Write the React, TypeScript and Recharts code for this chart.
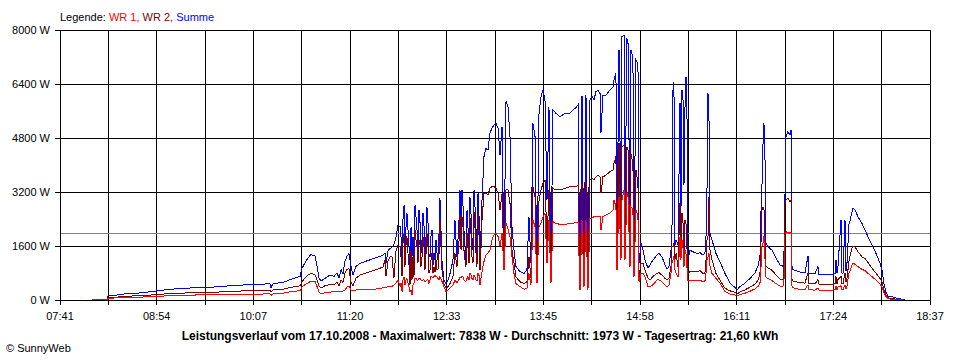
import React from 'react';
import { LineChart, Line, XAxis, YAxis, CartesianGrid, ReferenceLine } from 'recharts';

// Uhrzeit in Minuten seit Mitternacht
const zeit = [
  485.1, 491.2, 496.4, 497.2, 502.5, 510.0, 513.8, 521.3, 530.4, 540.2,
  547.7, 555.3, 564.3, 574.1, 585.4, 596.7, 608.0, 619.3, 620.1, 621.6,
  630.7, 634.4, 638.9, 642.0, 643.5, 645.7, 648.0, 650.3, 653.3, 654.8,
  656.3, 657.8, 660.8, 664.6, 667.6, 669.9, 671.4, 672.9, 674.4, 675.9,
  677.4, 678.9, 680.4, 681.9, 684.2, 687.2, 691.0, 694.7, 698.5, 702.3,
  704.5, 706.1, 706.8, 708.3, 709.8, 711.3, 712.8, 714.3, 715.9,
  717.4, 718.1, 718.9, 719.6, 720.4, 721.1, 721.9, 722.6, 723.4, 724.1,
  724.9, 725.7, 726.4, 727.2, 727.9, 728.7, 729.4, 730.2, 730.9, 731.7,
  732.4, 733.2, 734.0, 734.7, 735.5, 736.2, 737.0, 737.7, 738.5, 739.2,
  740.0, 740.7, 741.5, 742.2, 743.0, 743.8, 744.5, 745.3, 746.0, 746.8,
  747.5, 749.0, 750.5, 752.0, 753.6, 755.1, 757.3, 758.8, 759.6, 760.3,
  761.8, 762.6, 763.4, 764.1, 764.9, 765.6, 766.4, 767.1, 767.9, 768.6,
  769.4, 770.1, 770.9, 771.6, 772.4, 773.2, 773.9, 774.7, 775.4, 776.2,
  776.9, 777.7, 778.4, 779.2, 780.7, 782.2, 783.7,
  785.2, 786.7, 788.2, 789.7, 791.3, 792.8, 794.3, 795.8, 797.3, 798.8,
  800.3, 801.8, 803.3, 804.8, 807.8, 810.9, 813.1, 814.6, 816.1, 817.6,
  819.2, 820.7, 822.2, 823.7, 825.2, 826.7, 828.2, 829.7, 831.2, 832.7,
  835.0, 838.0, 841.8, 845.5,
  847.8, 850.1, 851.6, 853.1, 854.6, 856.1, 857.6, 859.1, 860.6, 862.1,
  863.6, 865.1, 866.7, 868.2, 868.9, 870.4, 872.7, 875.7, 878.0, 878.7,
  880.2, 881.0, 882.5, 884.0, 884.7, 886.3, 887.0, 888.5, 889.3, 890.8,
  891.5, 893.0, 893.8, 895.3, 896.8, 897.6, 899.1, 900.6, 902.1, 904.4,
  905.9, 908.1, 911.1, 912.6, 914.9, 917.2, 918.7, 920.2, 921.7, 922.4,
  923.2, 923.9, 924.7, 925.5, 927.0, 928.5, 929.2, 930.0, 930.7, 931.5,
  932.2, 933.0, 933.7, 934.5, 936.0, 938.2, 941.3, 943.6, 945.8, 947.3,
  948.1, 948.8, 949.6, 950.3, 951.1, 952.6, 955.6, 958.6, 962.4, 966.2,
  970.0, 971.5,
  973.7, 977.5, 981.3, 985.0, 987.3, 988.8, 989.6, 990.3, 991.1, 991.8,
  992.6, 993.3, 994.8, 997.8, 1000.1, 1003.9, 1006.1, 1006.9, 1007.7, 1008.4,
  1009.9, 1011.4, 1012.2, 1012.9, 1013.7, 1016.7, 1019.0, 1022.7, 1025.0, 1025.7,
  1028.0, 1030.3, 1032.5, 1033.3, 1034.0, 1037.8, 1041.6, 1045.4, 1046.1, 1046.9,
  1047.6, 1049.9, 1050.6, 1051.4, 1052.9, 1053.6, 1054.4, 1055.9, 1056.7, 1058.2,
  1058.9, 1060.4, 1062.7, 1065.7, 1068.0, 1070.2, 1073.3, 1076.3, 1079.3, 1080.8,
  1082.3, 1083.8, 1085.3, 1088.3, 1092.9, 1096.6, 1098.1,
];

// Summe (W)
const summe = [
  0, 10, 20, 130, 140, 180, 190, 210, 250, 300,
  330, 345, 370, 375, 410, 440, 460, 480, 370, 480,
  540, 600, 660, 700, 940, 1100, 1250, 1350, 1300, 1000,
  650, 560, 640, 740, 700, 800, 650, 900, 780, 1150,
  1300, 1380, 1000, 750, 1000, 1080, 1140, 1190, 1240, 1290,
  1330, 1380, 1100, 1450, 1530, 1560, 1650, 1850, 2220,
  2170, 1880, 990, 2370, 2800, 1480, 2170, 2570, 2070, 1680,
  700, 2170, 1280, 1880, 990, 2800, 2470, 2070, 1580, 2670,
  2370, 1380, 1780, 2570, 2170, 1180, 1880, 2760, 2270, 1380,
  1280, 1880, 2070, 1000, 1380, 1180, 1780, 1380, 1180, 1980,
  3010, 1180, 590, 490, 590, 790, 1180, 2370, 1780, 1280,
  2270, 3260, 2070, 3260, 2770, 2070, 1580, 1180, 2670, 2170,
  1480, 3060, 2570, 1880, 1480, 3260, 2770, 2070, 1380, 3160,
  2570, 1180, 1980, 2960, 4250, 4490, 4440,
  4940, 5090, 5190, 5240, 5090, 4300, 5140, 1280, 5880, 5730,
  4840, 2170, 1480, 990, 840, 790, 890, 2470, 1090, 5240,
  4840, 690, 5530, 6030, 6220, 5930, 2960, 5730, 890, 5630,
  5530, 5430, 5530, 5530,
  5630, 5700, 5780, 490, 6030, 690, 6070, 490, 5930, 6030,
  5930, 6170, 6220, 6120, 4940, 6070, 6070, 6220, 6320, 6520,
  6720, 1880, 7410, 2070, 7800, 7838, 2270, 7750, 7600, 1880,
  7410, 7210, 1190, 7110, 7010, 1090, 1680, 1480, 1190, 940,
  1040, 1185, 1330, 1380, 1280, 1040, 910, 990, 1480, 1780,
  6220, 6470, 1630, 1780, 1630, 5830, 2470, 6220, 6120, 3410,
  5630, 6620, 5830, 1190, 1480, 1430, 1380, 1400, 1330, 1380,
  1880, 3060, 6120, 5630, 1975, 1780, 1380, 1140, 790, 500,
  370, 300,
  400, 500, 640, 800, 1000, 1300, 2670, 3360, 4640, 5240,
  4150, 1680, 1580, 1480, 1300, 1040, 990, 1380, 3160, 4840,
  4990, 4890, 5040, 1000, 900, 860, 830, 800, 1300, 790,
  790, 770, 1000, 760, 760, 740, 760, 780, 1190, 790,
  990, 2370, 800, 790, 2370, 850, 1090, 2250, 2350, 2620,
  2720, 2670, 2470, 2270, 2070, 1880, 1630, 1380, 1090, 890,
  490, 250, 120, 100, 40, 20, 0,
];

// WR 2 (W)
const wr2 = [
  0, 5, 10, 75, 80, 110, 115, 130, 150, 180,
  200, 207, 220, 225, 245, 265, 280, 295, 230, 295,
  330, 370, 400, 420, 545, 650, 740, 790, 740, 600,
  420, 360, 420, 460, 450, 520, 430, 600, 520, 800,
  900, 940, 520, 420, 650, 740, 790, 840, 890, 940,
  980, 1180, 700, 1150, 1280, 1300, 650, 1450, 1630,
  1580, 1280, 700, 1680, 1970, 990, 1630, 1880, 1380, 1090,
  450, 1480, 590, 1280, 690, 2070, 1780, 1580, 1090, 1780,
  1680, 990, 1280, 1880, 1580, 890, 1380, 1970, 1580, 790,
  890, 1180, 1380, 800, 990, 840, 1180, 890, 890, 1380,
  2370, 890, 490, 350, 400, 490, 690, 1380, 1180, 990,
  1680, 2520, 1480, 2470, 2170, 1480, 1180, 990, 1980, 1580,
  1090, 2470, 1980, 1280, 1090, 2620, 2170, 1380, 990, 2570,
  1980, 890, 1480, 2370, 3160, 3160, 3110,
  3310, 3360, 3360, 3310, 3160, 2670, 3160, 1090, 3260, 3260,
  2870, 1480, 1090, 690, 540, 490, 540, 1280, 640, 3360,
  3060, 590, 2960, 3260, 3460, 3560, 1680, 3260, 690, 3310,
  3260, 3260, 3310, 3360,
  3360, 3360, 3410, 400, 3460, 540, 3560, 450, 3560, 3600,
  3560, 3650, 3700, 3650, 3160, 3650, 3700, 3800, 3850, 4050,
  4250, 1190, 4640, 1480, 4540, 4590, 1480, 4540, 4440, 1190,
  4340, 4050, 890, 3850, 3460, 690, 1090, 1090, 890, 640,
  590, 700, 790, 810, 740, 640, 590, 640, 990, 1580,
  1580, 1700, 1200, 1380, 990, 2860, 1580, 2570, 2370, 1190,
  2370, 2270, 1580, 790, 840, 840, 840, 870, 790, 790,
  1190, 1780, 1850, 3060, 1480, 1190, 790, 590, 350, 270,
  230, 180,
  240, 300, 380, 470, 580, 800, 1750, 2670, 2760, 2700,
  1700, 1000, 950, 880, 780, 620, 590, 1040, 2860, 2960,
  3010, 2910, 2960, 620, 560, 530, 520, 500, 800, 490,
  490, 480, 600, 470, 470, 460, 460, 480, 700, 480,
  600, 700, 490, 480, 800, 520, 640, 1150, 1300, 1550,
  1600, 1580, 1430, 1280, 1230, 1110, 940, 790, 640, 540,
  300, 150, 70, 40, 15, 5, 0,
];

// WR 1 (W)
const wr1 = [
  0, 5, 10, 55, 60, 75, 80, 85, 100, 120,
  130, 135, 150, 150, 160, 170, 175, 180, 140, 180,
  210, 240, 260, 280, 395, 450, 510, 560, 560, 400,
  230, 190, 210, 230, 250, 250, 240, 260, 260, 300,
  380, 420, 300, 270, 300, 300, 300, 300, 320, 350,
  360, 380, 380, 390, 395, 400, 450, 500, 590,
  400, 500, 250, 590, 690, 450, 590, 640, 500, 400,
  250, 300, 150, 450, 500, 640, 640, 590, 590, 640,
  640, 590, 590, 590, 600, 550, 560, 600, 590, 490,
  600, 690, 690, 650, 700, 740, 700, 690, 640, 590,
  690, 550, 400, 250, 300, 350, 440, 590, 550, 500,
  600, 690, 650, 690, 690, 590, 560, 550, 640, 690,
  600, 790, 740, 640, 600, 740, 690, 590, 560, 790,
  740, 440, 640, 840, 1140, 1330, 1380,
  1480, 1780, 1930, 1980, 1880, 1600, 1980, 890, 2270, 2100,
  1880, 1280, 790, 490, 400, 320, 350, 790, 450, 2370,
  2170, 490, 2170, 2270, 2470, 2570, 1090, 2370, 490, 2320,
  2270, 2240, 2240, 2270,
  2270, 2300, 2300, 300, 2370, 400, 2370, 300, 2420, 2420,
  2470, 2470, 2470, 2470, 2070, 2470, 2520, 2570, 2670, 2960,
  2770, 890, 3060, 1190, 2960, 3260, 1190, 3160, 3060, 990,
  2770, 2670, 690, 2670, 2470, 540, 790, 790, 690, 400,
  395, 450, 590, 600, 540, 450, 395, 450, 790, 1090,
  1190, 1300, 890, 790, 690, 1880, 1190, 1780, 1580, 990,
  1480, 1380, 990, 590, 590, 580, 590, 590, 540, 560,
  790, 1180, 1280, 1400, 1000, 790, 640, 500, 250, 180,
  150, 120,
  160, 200, 260, 330, 400, 500, 1000, 1600, 1700, 1900,
  1200, 680, 640, 580, 510, 410, 390, 590, 1980, 2020,
  2000, 1980, 2000, 420, 360, 330, 320, 310, 450, 300,
  300, 290, 360, 290, 290, 280, 290, 300, 420, 300,
  380, 420, 310, 300, 450, 330, 400, 800, 870, 1040,
  1090, 1060, 990, 910, 870, 790, 690, 590, 470, 390,
  200, 100, 40, 20, 10, 0, 0,
];

const tickLabels = ['07:41', '08:54', '10:07', '11:20', '12:33', '13:45', '14:58', '16:11', '17:24', '18:37'];
const yTicks = [0, 1600, 3200, 4800, 6400, 8000];
const durchschnitt = 1973;

const startMin = 461;
const endMin = 1117;
const xTicks = Array.from({ length: 19 }, (_, i) => startMin + (i * (endMin - startMin)) / 18);

const daten = zeit.map((t, i) => ({ t, wr1: wr1[i], wr2: wr2[i], summe: summe[i] }));

const font = '"Liberation Sans", Arial, sans-serif';

export default function App() {
  return (
    <div style={{ position: 'absolute', left: 0, top: 0, width: 960, height: 360, background: '#fff', fontFamily: font }}>
      <style>{`
        .recharts-cartesian-grid line, .recharts-cartesian-axis line, .recharts-reference-line line { shape-rendering: crispEdges; }
        .recharts-line-curve { shape-rendering: crispEdges; }
      `}</style>
      <div style={{ position: 'absolute', left: 60, top: 12, fontSize: 11, lineHeight: 1, whiteSpace: 'nowrap' }}>
        <span style={{ color: '#000' }}>Legende: </span>
        <span style={{ color: '#FF0000' }}>WR 1, </span>
        <span style={{ color: '#800000' }}>WR 2, </span>
        <span style={{ color: '#0000FF' }}>Summe</span>
      </div>
      <LineChart width={960} height={360} data={daten} margin={{ top: 30, right: 30, left: 0, bottom: 40 }}>
        <CartesianGrid stroke="#000" strokeWidth={1} />
        <XAxis
          dataKey="t"
          type="number"
          domain={[startMin, endMin]}
          ticks={xTicks}
          interval={0}
          height={20}
          tickSize={5}
          tickMargin={7}
          tickFormatter={(v, i) => (i % 2 === 0 ? tickLabels[i / 2] : '')}
          tick={{ fill: '#000', fontSize: 11, fontFamily: font }}
          tickLine={{ stroke: '#000' }}
          axisLine={{ stroke: '#000' }}
        />
        <YAxis
          type="number"
          domain={[0, 8000]}
          ticks={yTicks}
          interval={0}
          width={60}
          tickSize={5}
          tickMargin={5}
          tickFormatter={(v) => `${v} W`}
          tick={{ fill: '#000', fontSize: 11, fontFamily: font }}
          tickLine={{ stroke: '#000' }}
          axisLine={{ stroke: '#000' }}
        />
        <ReferenceLine y={durchschnitt} stroke="#808080" strokeWidth={1} />
        <Line type="linear" dataKey="summe" stroke="#0000FF" strokeWidth={1} dot={false} isAnimationActive={false} />
        <Line type="linear" dataKey="wr2" stroke="#800000" strokeWidth={1} dot={false} isAnimationActive={false} />
        <Line type="linear" dataKey="wr1" stroke="#FF0000" strokeWidth={1} dot={false} isAnimationActive={false} />
      </LineChart>
      <div style={{ position: 'absolute', left: 0, width: 960, top: 330, textAlign: 'center', fontSize: 12, fontWeight: 'bold', lineHeight: 1, whiteSpace: 'nowrap' }}>
        Leistungsverlauf vom 17.10.2008 - Maximalwert: 7838 W - Durchschnitt: 1973 W - Tagesertrag: 21,60 kWh
      </div>
      <div style={{ position: 'absolute', left: 6, top: 343, fontSize: 11, lineHeight: 1, whiteSpace: 'nowrap' }}>
        © SunnyWeb
      </div>
    </div>
  );
}
